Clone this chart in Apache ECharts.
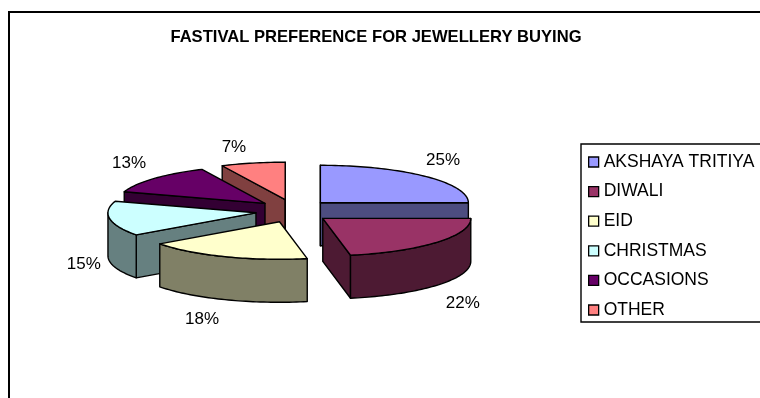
<!DOCTYPE html>
<html>
<head>
<meta charset="utf-8">
<style>html,body{margin:0;padding:0;background:#fff}#chart{width:760px;height:398px}</style>
<script src="https://cdn.jsdelivr.net/npm/echarts@6/dist/echarts.min.js"></script>
</head>
<body>
<div id="chart"></div>
<script>
// Festival shares, in percent, clockwise from twelve o'clock
var categories = ['AKSHAYA TRITIYA', 'DIWALI', 'EID', 'CHRISTMAS', 'OCCASIONS', 'OTHER'];
var shares = [25, 22, 18, 15, 13, 7];
var topColors = ['#9999FF', '#993366', '#FFFFCC', '#CCFFFF', '#660066', '#FF8080'];
var wallColors = ['#4D4D80', '#4D1A33', '#808066', '#668080', '#330033', '#804040'];
var chartTitle = 'FASTIVAL PREFERENCE FOR JEWELLERY BUYING';

// Pie projection on the page
var pie = { cx: 293.5, cy: 211, rx: 148, ry: 37.5, depth: 43, explodeX: 38, explodeY: 11.6 };
// Label nudges relative to the rim point at each slice's middle angle
var labelNudge = [[18, -16], [26, 18.5], [-23, 19.5], [-26, 2.5], [-25, -15.5], [-19, -16]];

var total = shares.reduce(function (a, b) { return a + b; }, 0);
var slices = [];
shares.reduce(function (acc, v) {
  var a0 = acc / total * Math.PI * 2;
  var a1 = (acc + v) / total * Math.PI * 2;
  var mid = (a0 + a1) / 2;
  slices.push({
    a0: a0, a1: a1, mid: mid,
    ax: pie.cx + pie.explodeX * Math.sin(mid),
    ay: pie.cy - pie.explodeY * Math.cos(mid)
  });
  return acc + v;
}, 0);

// Back-to-front painting order follows the apex height on the page
var paintOrder = slices.map(function (s, i) { return i; })
  .sort(function (p, q) { return slices[p].ay - slices[q].ay; });

function rimPoint(s, a, drop) {
  return [s.ax + pie.rx * Math.sin(a), s.ay - pie.ry * Math.cos(a) + (drop || 0)];
}
function arcPoints(s, from, to, drop) {
  var n = Math.max(2, Math.ceil((to - from) * 40)), pts = [];
  for (var k = 0; k <= n; k++) pts.push(rimPoint(s, from + (to - from) * k / n, drop));
  return pts;
}
function poly(points, fill) {
  return {
    type: 'polygon',
    shape: { points: points },
    style: { fill: fill, stroke: '#000', lineWidth: 1.4, lineJoin: 'round' },
    silent: true
  };
}
function radialWall(s, a, fill) {
  var p = rimPoint(s, a), d = pie.depth;
  return poly([[s.ax, s.ay], p, [p[0], p[1] + d], [s.ax, s.ay + d]], fill);
}
function sliceRenderer(i) {
  return function () {
    var s = slices[i], d = pie.depth, children = [], eps = 1e-6;
    // A cut face is seen only when it turns towards the viewer
    if (Math.sin(s.a0) <= eps) children.push(radialWall(s, s.a0, wallColors[i]));
    if (Math.sin(s.a1) >= -eps) children.push(radialWall(s, s.a1, wallColors[i]));
    // The outer wall only shows on the near half of the rim
    var from = Math.max(s.a0, Math.PI / 2), to = Math.min(s.a1, Math.PI * 1.5);
    if (to > from) {
      children.push(poly(arcPoints(s, from, to, 0).concat(arcPoints(s, from, to, d).reverse()), wallColors[i]));
    }
    children.push(poly([[s.ax, s.ay]].concat(arcPoints(s, s.a0, s.a1, 0)), topColors[i]));

    var near = Math.cos(s.mid) < 0;
    var rim = rimPoint(s, s.mid, near ? d : 0);
    children.push({
      type: 'text',
      silent: true,
      style: {
        x: rim[0] + labelNudge[i][0],
        y: rim[1] + labelNudge[i][1],
        text: shares[i] + '%',
        align: 'center',
        verticalAlign: 'middle',
        fill: '#000',
        font: '17px "Liberation Sans", Arial, sans-serif'
      }
    });
    return { type: 'group', children: children };
  };
}

var chart = echarts.init(document.getElementById('chart'), null, { renderer: 'canvas' });
chart.setOption({
  animation: false,
  backgroundColor: '#fff',
  color: topColors,
  title: {
    text: chartTitle,
    left: 371,
    top: 24,
    textAlign: 'center',
    textStyle: { fontFamily: '"Liberation Sans", Arial, sans-serif', fontSize: 16.6, fontWeight: 'bold', color: '#000' }
  },
  legend: {
    orient: 'vertical',
    left: 581,
    top: 144,
    padding: [9, 30, 3, 7],
    backgroundColor: '#fff',
    borderColor: '#000',
    borderWidth: 1.4,
    icon: 'rect',
    itemWidth: 10,
    itemHeight: 10,
    itemGap: 11.6,
    selectedMode: false,
    data: categories,
    itemStyle: { borderColor: '#000', borderWidth: 1.3 },
    textStyle: { fontFamily: '"Liberation Sans", Arial, sans-serif', fontSize: 17.5, color: '#000' }
  },
  graphic: [{
    type: 'rect',
    silent: true,
    z: -10,
    shape: { x: 9, y: 12, width: 900, height: 600 },
    style: { fill: '#fff', stroke: '#000', lineWidth: 2 }
  }],
  series: categories.map(function (name, i) {
    return {
      type: 'custom',
      name: name,
      coordinateSystem: 'none',
      silent: true,
      z: 2 + paintOrder.indexOf(i),
      data: [[shares[i]]],
      renderItem: sliceRenderer(i)
    };
  })
});
</script>
</body>
</html>
